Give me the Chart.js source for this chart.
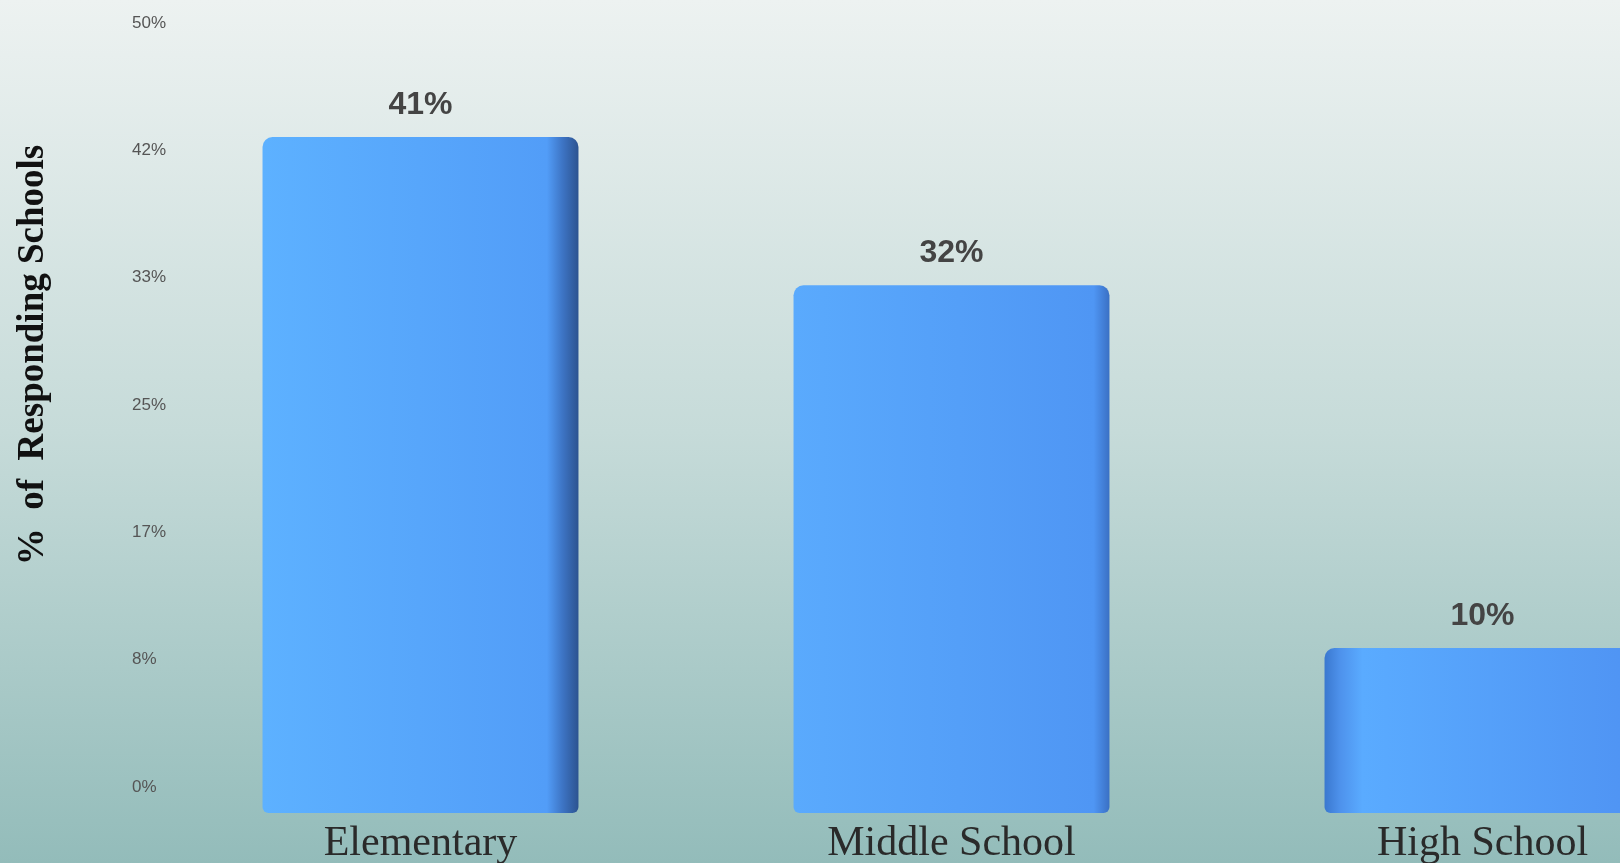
<!DOCTYPE html>
<html>
<head>
<meta charset="utf-8">
<script src="https://cdn.jsdelivr.net/npm/chart.js@4.4.1/dist/chart.umd.min.js"></script>
<style>
  html, body { margin: 0; padding: 0; width: 1620px; height: 863px; overflow: hidden;
    background: linear-gradient(to bottom, #edf2f1 0%, #c6dbd9 50%, #93bcba 100%); }
  #wrap { position: absolute; left: 0; top: 0; width: 1748px; height: 863px; }
</style>
</head>
<body>
<div id="wrap"><canvas id="c" width="1748" height="863"></canvas></div>
<script>
// ─── data ─────────────────────────────────────────────────────────────
const levels     = ["Elementary", "Middle School", "High School"];
const shares     = [41, 32, 10];
const tickValues = [0, 8.33, 16.67, 25, 33.33, 41.67, 50];
const tickLabels = ["0%", "8%", "17%", "25%", "33%", "42%", "50%"];
const yTitle     = "%  of  Responding Schools";

// ─── styles ───────────────────────────────────────────────────────────
const BAR_PCT = 0.595;
const barShades = [
  [[0, "#5db1ff"], [0.9, "#529df8"], [0.95, "#3d74c4"], [1, "#2c5390"]],
  [[0, "#5aaafd"], [0.95, "#4f96f4"], [1, "#3a70c4"]],
  [[0, "#3a78cf"], [0.05, "#4e92ec"], [0.12, "#5aabff"], [1, "#4f93f3"]],
];

function barFill(c) {
  const ch = c.chart, x = ch.scales.x;
  if (!x || c.dataIndex === undefined) return "#55a2fb";
  const w = x.width / levels.length * BAR_PCT;
  const cx = x.getPixelForValue(c.dataIndex);
  if (!isFinite(cx) || !isFinite(w) || w <= 0) return "#55a2fb";
  const g = ch.ctx.createLinearGradient(cx - w / 2, 0, cx + w / 2, 0);
  barShades[c.dataIndex].forEach(([o, col]) => g.addColorStop(o, col));
  return g;
}

const valueLabels = {
  id: "valueLabels",
  afterDatasetsDraw(chart) {
    const ctx = chart.ctx;
    ctx.save();
    ctx.font = 'bold 32px "Liberation Sans Narrow", "Liberation Sans", sans-serif';
    ctx.fillStyle = "#444";
    ctx.textAlign = "center";
    ctx.textBaseline = "middle";
    chart.getDatasetMeta(0).data.forEach((bar, i) => {
      ctx.fillText(shares[i] + "%", bar.x, bar.y - 32);
    });
    ctx.restore();
  },
};

const sideTitle = {
  id: "sideTitle",
  afterDraw(chart) {
    const ctx = chart.ctx;
    ctx.save();
    ctx.translate(33, 355);
    ctx.rotate(-Math.PI / 2);
    ctx.font = 'bold 37px "Liberation Serif", serif';
    ctx.fillStyle = "#111";
    ctx.textAlign = "center";
    ctx.textBaseline = "middle";
    ctx.fillText(yTitle, 0, 0);
    ctx.restore();
  },
};

const chart = new Chart(document.getElementById("c"), {
  type: "bar",
  data: {
    labels: levels,
    datasets: [{
      data: shares,
      yAxisID: "y",
      backgroundColor: barFill,
      borderRadius: { topLeft: 10, topRight: 10, bottomLeft: 6, bottomRight: 6 },
      borderSkipped: false,
      barPercentage: BAR_PCT,
      categoryPercentage: 1,
    }],
  },
  options: {
    responsive: false,
    animation: false,
    layout: { padding: { top: 10, right: 0, left: 0, bottom: 0 } },
    plugins: { legend: { display: false }, tooltip: { enabled: false } },
    scales: {
      x: {
        grid: { display: false }, border: { display: false },
        ticks: { color: "#2a2a2a", padding: -2, maxRotation: 0, autoSkip: false,
                 font: { family: '"Liberation Serif", serif', size: 42 } },
        afterFit: s => { s.height = 50; },
      },
      y: { display: false, min: 0, max: 48.7 },
      yTicks: {
        position: "left", min: -1.7, max: 50.85,
        grid: { display: false }, border: { display: false },
        afterBuildTicks: s => { s.ticks = tickValues.map(v => ({ value: v })); },
        ticks: { mirror: true, padding: -23, color: "#555",
                 font: { family: '"Liberation Sans", sans-serif', size: 17 },
                 callback: (v, i) => tickLabels[i] },
        afterFit: s => { s.width = 155; },
      },
    },
  },
  plugins: [valueLabels, sideTitle],
});
// re-resolve bar gradients now that the scales have their final size
chart.update("none");
</script>
</body>
</html>
